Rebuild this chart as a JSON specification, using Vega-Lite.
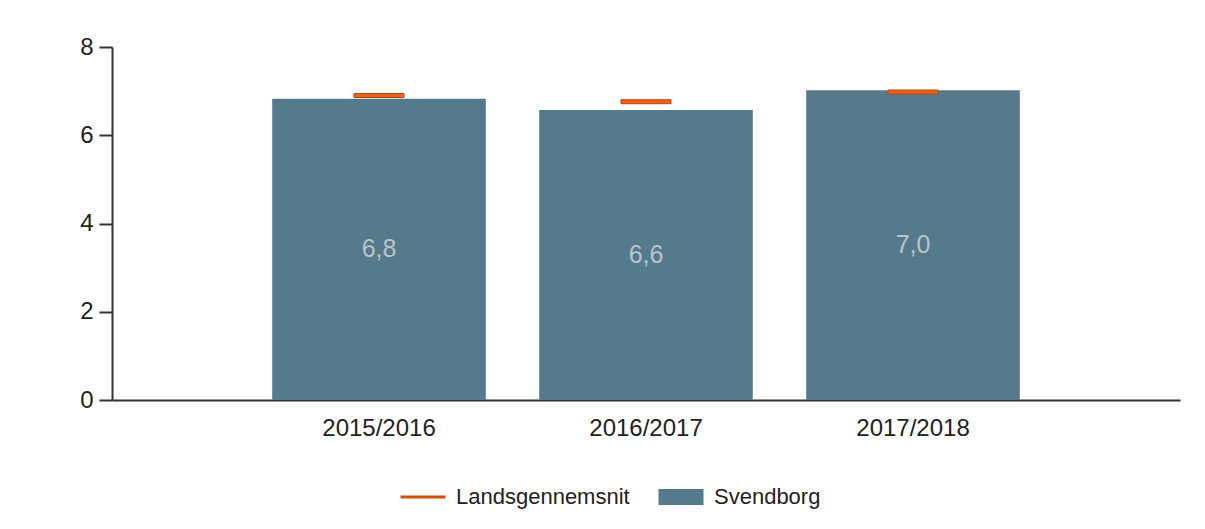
{
  "$schema": "https://vega.github.io/schema/vega-lite/v6.json",
  "width": 1068,
  "height": 353,
  "autosize": "none",
  "padding": {"left": 112, "top": 47, "right": 25, "bottom": 129},
  "background": "white",
  "config": {"view": {"stroke": null}, "font": "Liberation Sans"},
  "data": {"values": [
    {"year": "2015/2016", "series": "Svendborg", "value": 6.83, "label": "6,8"},
    {"year": "2016/2017", "series": "Svendborg", "value": 6.57, "label": "6,6"},
    {"year": "2017/2018", "series": "Svendborg", "value": 7.02, "label": "7,0"},
    {"year": "2015/2016", "series": "Landsgennemsnit", "value": 6.9},
    {"year": "2016/2017", "series": "Landsgennemsnit", "value": 6.76},
    {"year": "2017/2018", "series": "Landsgennemsnit", "value": 6.98}
  ]},
  "encoding": {
    "x": {
      "field": "year", "type": "nominal",
      "scale": {"paddingInner": 0.2, "paddingOuter": 0.6},
      "axis": {"title": null, "labelAngle": 0, "ticks": false, "labelPadding": 16, "labelFontSize": 24, "labelColor": "#222", "domainColor": "#333", "domainWidth": 2, "labelFont": "Liberation Sans"}
    }
  },
  "layer": [
    {
      "transform": [{"filter": "datum.series === 'Svendborg'"}],
      "mark": {"type": "bar"},
      "encoding": {
        "y": {
          "field": "value", "type": "quantitative",
          "scale": {"domain": [0, 8]},
          "axis": {"title": null, "values": [0, 2, 4, 6, 8], "grid": false, "tickSize": 13, "tickColor": "#333", "tickWidth": 2, "labelPadding": 6, "labelFontSize": 24, "labelColor": "#222", "domainColor": "#333", "domainWidth": 2, "labelFont": "Liberation Sans"}
        },
        "color": {
          "field": "series", "type": "nominal",
          "scale": {"domain": ["Landsgennemsnit", "Svendborg"], "range": ["#e8641a", "#547a8c"]},
          "legend": {
            "orient": "none", "legendX": 300, "legendY": 439, "direction": "horizontal", "title": null,
            "symbolSize": 2025, "labelFontSize": 22, "labelColor": "#222", "labelOffset": 22, "columnPadding": 28,
            "labelLimit": 400,
            "labelFont": "Liberation Sans", "symbolStrokeWidth": 3,
            "encode": {"symbols": {"update": {
              "shape": {"signal": "datum.value === 'Landsgennemsnit' ? 'stroke' : 'M-1,-0.36H1V0.36H-1Z'"},
              "fill": {"signal": "datum.value === 'Landsgennemsnit' ? 'transparent' : '#547a8c'"},
              "stroke": {"signal": "datum.value === 'Landsgennemsnit' ? '#d2500f' : 'transparent'"},
              "strokeWidth": {"signal": "datum.value === 'Landsgennemsnit' ? 3 : 0"},
              "opacity": {"value": 1}
            }}}
          }
        }
      }
    },
    {
      "transform": [{"filter": "datum.series === 'Svendborg'"}],
      "mark": {"type": "text", "fontSize": 25, "color": "#b9c4cb", "font": "Liberation Sans", "baseline": "middle"},
      "encoding": {
        "y": {"field": "value", "type": "quantitative", "scale": {"domain": [0, 16]}, "axis": null},
        "text": {"field": "label"}
      }
    },
    {
      "transform": [{"filter": "datum.series === 'Landsgennemsnit'"}],
      "mark": {"type": "tick", "thickness": 4, "size": 50, "stroke": "#c2410c", "strokeWidth": 1, "opacity": 1},
      "encoding": {
        "y": {"field": "value", "type": "quantitative", "scale": {"domain": [0, 8]}, "axis": null},
        "color": {"field": "series", "type": "nominal"}
      }
    }
  ],
  "resolve": {"scale": {"y": "independent"}}
}
